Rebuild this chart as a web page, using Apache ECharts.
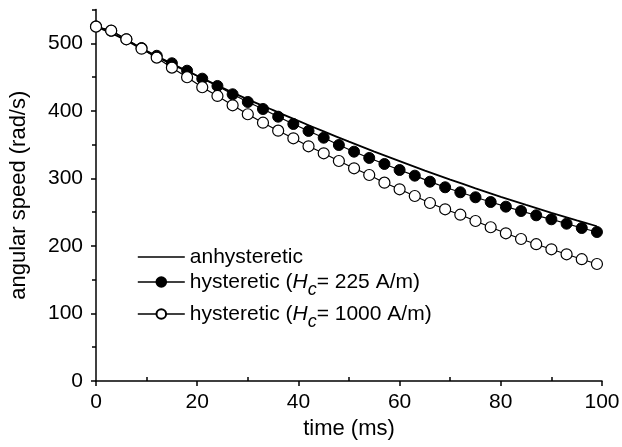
<!DOCTYPE html>
<html>
<head>
<meta charset="utf-8">
<script src="https://cdn.jsdelivr.net/npm/echarts@6/dist/echarts.min.js"></script>
<style>html,body{margin:0;padding:0;background:#fff}#c{width:622px;height:447px}</style>
</head>
<body>
<div id="c"></div>
<script>
// time (ms) of the marker points
var timeMarkers = [0,3,6,9,12,15,18,21,24,27,30,33,36,39,42,45,48,51,54,57,60,63,66,69,72,75,78,81,84,87,90,93,96,99];
// hysteretic Hc = 225 A/m (filled circles), rad/s
var hyst225 = [525,518.5,506,493,481.5,470.4,459.4,447.6,436.8,424.5,413.1,402.7,391.3,380.5,370.2,360.2,349.4,339.5,330.2,321.3,312.4,304,295.1,286.8,279.4,272,265,258.1,251.7,245.3,239.4,232.9,226.5,220.6];
// hysteretic Hc = 1000 A/m (open circles), rad/s
var hyst1000 = [524.6,518.7,505.9,492,478.7,463.9,449.7,434.9,422,408.2,394.9,382.4,370.6,359.3,347.5,337.1,325.7,314.9,305,293.6,283.8,273.9,263.5,254.2,246.2,236.9,227.6,218.7,210.2,202.5,195,187.6,180.3,173.2];
// anhysteretic curve
var timeLine = [0,5,10,15,20,25,30,35,40,45,50,55,60,65,70,75,80,85,90,95,99];
var anhyst = [525,508,488,469,452,434,417,401,385,369.5,354.3,339.6,325.4,311.5,298.2,285.3,272.7,260.6,249,237.7,229.1];
// tick labels
var xMajor = [0,20,40,60,80,100];
var xMinor = [10,30,50,70,90];
var yMajor = [0,100,200,300,400,500];
var yMinor = [50,150,250,350,450,550];

function pairs(xs, ys){ return xs.map(function(x,i){ return [x, ys[i]]; }); }

var FONT = 'Liberation Sans, Arial, sans-serif';
var chart = echarts.init(document.getElementById('c'), null, {renderer:'canvas'});
var richText = {
  n: {fontFamily: FONT, fontSize: 21, color: '#000', lineHeight: 34, verticalAlign: 'middle'},
  i: {fontFamily: FONT, fontSize: 21, color: '#000', fontStyle: 'italic', lineHeight: 34, verticalAlign: 'middle'},
  s: {fontFamily: FONT, fontSize: 18, color: '#000', fontStyle: 'italic', lineHeight: 16, verticalAlign: 'bottom'}
};
function legendFor(name, top, fmt, rich, noSymbol){
  var lg = {
    data: [name], left: 137, top: top, orient: 'vertical',
    itemWidth: 47, itemHeight: 12, itemGap: 0, padding: 0,
    formatter: fmt,
    lineStyle: {width: 1.6, color: '#000', opacity: 1},
    textStyle: {fontFamily: FONT, fontSize: 21, color: '#000', lineHeight: 24, rich: rich}
  };
  if (noSymbol) { lg.itemStyle = {color: 'rgba(0,0,0,0)', borderColor: 'rgba(0,0,0,0)', borderWidth: 0}; }
  return lg;
}
chart.setOption({
  animation: false,
  backgroundColor: '#fff',
  grid: {left: 96, right: 20, top: 9.5, bottom: 66, containLabel: false, outerBoundsMode: 'none'},
  legend: [
    legendFor('anhysteretic', 245, '{name}', undefined, true),
    legendFor('hc225', 265, '{n|hysteretic (}{i|H}{s|c}{n|= 225 A/m)}', richText, false),
    legendFor('hc1000', 297, '{n|hysteretic (}{i|H}{s|c}{n|= 1000 A/m)}', richText, false)
  ],
  xAxis: [{
    type: 'value', min: 0, max: 100, interval: 20,
    name: 'time (ms)', nameLocation: 'middle', nameGap: 34,
    nameTextStyle: {fontFamily: FONT, fontSize: 22, color: '#000'},
    axisLine: {show: true, lineStyle: {color: '#000', width: 1.5}},
    axisTick: {show: true, inside: false, length: 5, lineStyle: {color: '#000', width: 1.5}, customValues: xMajor},
    axisLabel: {fontFamily: FONT, fontSize: 21, color: '#000', margin: 11, customValues: xMajor},
    splitLine: {show: false}
  }, {
    type: 'value', min: 0, max: 100, interval: 10, position: 'bottom',
    axisLine: {show: false},
    axisTick: {show: true, inside: true, length: 4, lineStyle: {color: '#000', width: 1.5}, customValues: xMinor},
    axisLabel: {show: false},
    splitLine: {show: false}
  }],
  yAxis: [{
    type: 'value', min: 0, max: 550, interval: 100,
    name: 'angular speed (rad/s)', nameLocation: 'middle', nameGap: 66,
    nameTextStyle: {fontFamily: FONT, fontSize: 22, color: '#000'},
    axisLine: {show: true, lineStyle: {color: '#000', width: 1.5}},
    axisTick: {show: true, inside: false, length: 5, lineStyle: {color: '#000', width: 1.5}, customValues: yMajor},
    axisLabel: {fontFamily: FONT, fontSize: 21, color: '#000', margin: 13, customValues: yMajor},
    splitLine: {show: false}
  }, {
    type: 'value', min: 0, max: 550, interval: 50, position: 'left',
    axisLine: {show: false},
    axisTick: {show: true, inside: false, length: 4, lineStyle: {color: '#000', width: 1.5}, customValues: yMinor},
    axisLabel: {show: false},
    splitLine: {show: false}
  }],
  series: [{
    name: 'anhysteretic', type: 'line', data: pairs(timeLine, anhyst),
    smooth: 0.3, showSymbol: false, symbol: 'none',
    lineStyle: {color: '#000', width: 1.8}, itemStyle: {color: '#000'}
  }, {
    name: 'hc225', type: 'line', data: pairs(timeMarkers, hyst225),
    symbol: 'circle', symbolSize: 11, showSymbol: true,
    lineStyle: {color: '#000', width: 1.2},
    itemStyle: {color: '#000', borderColor: '#000', borderWidth: 1}
  }, {
    name: 'hc1000', type: 'line', data: pairs(timeMarkers, hyst1000),
    symbol: 'circle', symbolSize: 11, showSymbol: true,
    lineStyle: {color: '#000', width: 1.2},
    itemStyle: {color: '#fff', borderColor: '#000', borderWidth: 1.2}
  }]
});
</script>
</body>
</html>
